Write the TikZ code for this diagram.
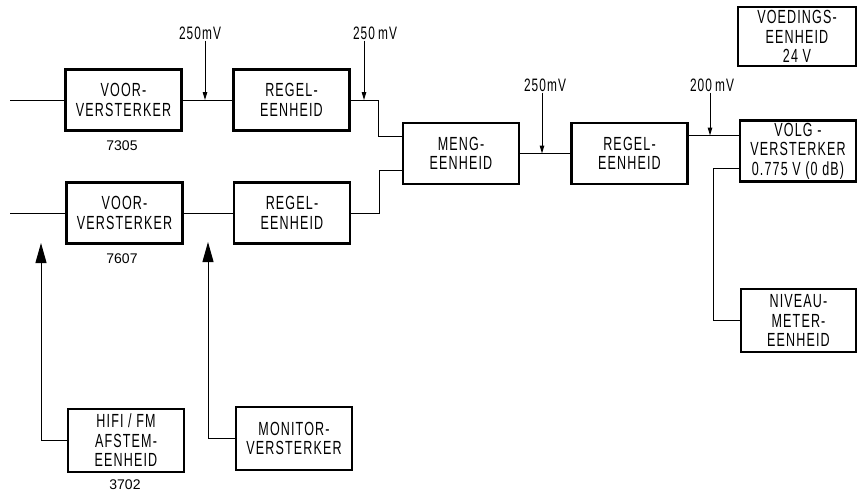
\documentclass[tikz,border=0pt]{standalone}
\usepackage{fontspec}
\setmainfont{Liberation Sans}
\newfontfamily\din{Liberation Sans}[FakeStretch=0.66,LetterSpace=6]
\usetikzlibrary{arrows.meta,calc}
\begin{document}
\begin{tikzpicture}[x=1pt,y=-1pt,
  blk/.style={draw,line width=2.6pt,minimum width=#1,minimum height=61pt,inner sep=0pt,align=center,
    font=\din\fontsize{19}{19.5}\selectfont},
  blk/.default=116pt,
  wire/.style={line width=1pt},
  volt/.style={font=\din\fontsize{18}{19}\selectfont,inner sep=1pt},
  num/.style={font=\fontsize{14}{16}\selectfont,inner sep=0pt},
  sig/.style={line width=1pt,-{Triangle[width=4.5pt,length=8pt]}},
  big/.style={line width=1pt,-{Triangle[width=11pt,length=20pt]}}]
\useasboundingbox (0,0) rectangle (858,493);
% blocks
\node[blk] (voor1) at (123.5,100) {VOOR-\\VERSTERKER};
\node[blk] (regel1) at (291.5,100) {REGEL-\\EENHEID};
\node[blk] (voor2) at (124.5,213) {VOOR-\\VERSTERKER};
\node[blk] (regel2) at (292,213) {REGEL-\\EENHEID};
\node[blk] (meng) at (461,153.5) {MENG-\\EENHEID};
\node[blk] (regel3) at (629.5,153.5) {REGEL-\\EENHEID};
\node[blk] (volg) at (798,151) {VOLG -\\VERSTERKER\\0.775 V (0 dB)};
\node[blk=118pt,minimum height=59pt] (voed) at (797,36.5) {VOEDINGS-\\EENHEID\\24 V};
\node[blk=115pt,minimum height=63pt] (niveau) at (798.5,320.5) {NIVEAU-\\METER-\\EENHEID};
\node[blk,minimum height=63pt] (hifi) at (126,440.5) {HIFI / FM\\AFSTEM-\\EENHEID};
\node[blk,minimum height=63pt] (monitor) at (294,438.5) {MONITOR-\\VERSTERKER};
% numbers
\node[num] (n1) at (122,146) {7305};
\node[num] (n2) at (122,259) {7607};
\node[num] (n3) at (125,485) {3702};
% inputs
\coordinate (in1) at (10,100);
\coordinate (in2) at (10,213);
\draw[wire] (in1) -- (voor1.west);
\draw[wire] (in2) -- (voor2.west);
\draw[wire] (voor1.east) -- (regel1.west);
\draw[wire] (voor2.east) -- (regel2.west);
\draw[wire] (regel1.east) -- ++(28,0) |- ([yshift=17pt]meng.west);
\draw[wire] (regel2.east) -- ++(28,0) |- ([yshift=-17pt]meng.west);
\draw[wire] (meng.east) -- (regel3.west);
\draw[wire] ([yshift=18pt]regel3.east) -- ([yshift=18pt]regel3.east -| volg.west);
\draw[wire] ([yshift=-17pt]volg.west) -- ++(-25,0) |- (niveau.west);
% up arrows
\coordinate (t1) at (41,243);
\coordinate (t2) at (208,242);
\draw[big] (hifi.west) -| (t1);
\draw[big] (monitor.west) -| (t2);
% voltage labels
\node[volt] (v1) at (200,33) {250mV};
\node[volt] (v2) at (375,33) {250\,mV};
\node[volt] (v3) at (545,85) {250mV};
\node[volt] (v4) at (712,85) {200\,mV};
\coordinate (p1) at (205,100);
\coordinate (p2) at (364,100);
\coordinate (p3) at (542,153.5);
\coordinate (p4) at (710,135.5);
\draw[sig] (p1 |- v1.south) -- (p1);
\draw[sig] (p2 |- v2.south) -- (p2);
\draw[sig] (p3 |- v3.south) -- (p3);
\draw[sig] (p4 |- v4.south) -- (p4);
\end{tikzpicture}
\end{document}
